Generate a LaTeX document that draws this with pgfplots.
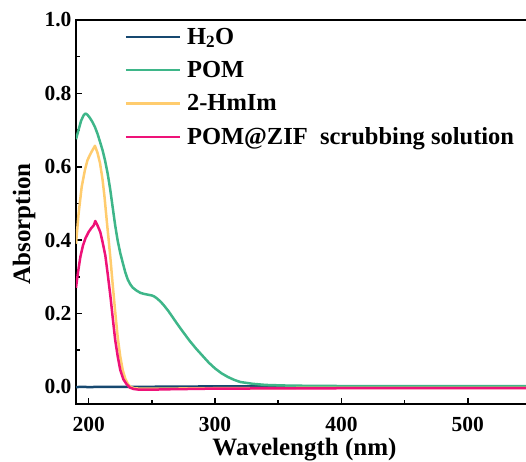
\documentclass[border=0pt]{standalone}
\usepackage{pgfplots}
\pgfplotsset{compat=1.18}
\usepackage{fontspec}
\setmainfont{Liberation Serif}
\definecolor{cH}{RGB}{22,72,112}
\definecolor{cPOM}{RGB}{62,182,137}
\definecolor{cHm}{RGB}{255,204,110}
\definecolor{cZIF}{RGB}{238,18,120}
\begin{document}
\begin{tikzpicture}
\useasboundingbox (-76pt,-57pt) rectangle (450pt,404pt);
\begin{axis}[
  at={(0pt,0pt)}, anchor=south west,
  scale only axis, width=456pt, height=384pt,
  xmin=190, xmax=550.8, ymin=-0.047, ymax=1.0,
  axis lines=box,
  xtick pos=bottom, ytick pos=left,
  tick align=inside,
  xtick={200,300,400,500}, ytick={0,0.2,0.4,0.6,0.8,1.0},
  minor x tick num=1, minor y tick num=1,
  major tick length=6pt, minor tick length=4pt,
  every tick/.style={black, line width=1.6pt},
  axis line style={black, line width=1.8pt},
  /pgf/number format/assume math mode=true,
  yticklabel style={/pgf/number format/fixed, /pgf/number format/fixed zerofill, /pgf/number format/precision=1},
  ticklabel style={font=\fontsize{21.5}{24}\selectfont\bfseries},
  xticklabel style={yshift=-10pt},
  yticklabel style={xshift=-1pt},
  xlabel={Wavelength (nm)}, ylabel={Absorption},
  label style={font=\fontsize{25}{29}\selectfont\bfseries},
  xlabel style={at={(axis description cs:0.501,-0.133)}, anchor=base},
  ylabel style={at={(axis description cs:-0.1140,0.469)}, anchor=center},
  legend style={draw=none, fill=none, at={(axis description cs:0.106,0.985)}, anchor=north west,
    font=\fontsize{24.5}{29}\selectfont\bfseries, row sep=11.5pt, inner sep=0pt},
  legend cell align=left,
  legend image code/.code={\draw[#1, line width=2.5pt] (0pt,0pt) -- (54pt,0pt); \path (58pt,0pt);},
  every axis plot/.append style={line width=2.5pt, line join=round},
]
\addplot[cH] coordinates {(190,-0.001) (195,0.0) (200,-0.001) (210,0.0) (250,0.0) (300,0.001) (350,0.001) (400,0.001) (450,0.001) (500,0.001) (550,0.001)};
\addlegendentry{H\textsubscript{2}O}
\addplot[cPOM] coordinates {(190,0.675) (192,0.70) (194,0.725) (196,0.74) (197.5,0.745) (199,0.742) (201,0.733) (203,0.722) (205,0.708) (207,0.69) (209,0.668) (211,0.645) (213,0.617) (215,0.582) (217,0.54) (219,0.49) (221,0.44) (223,0.398) (225,0.365) (227,0.338) (229,0.312) (231,0.292) (233,0.279) (235,0.27) (238,0.262) (241,0.256) (244,0.253) (247,0.251) (250,0.249) (252,0.246) (254,0.241) (256,0.235) (258,0.228) (260,0.22) (263,0.207) (266,0.192) (270,0.172) (275,0.148) (280,0.125) (285,0.104) (290,0.085) (295,0.066) (300,0.05) (305,0.037) (310,0.027) (315,0.019) (320,0.013) (330,0.008) (340,0.005) (360,0.003) (400,0.002) (450,0.002) (500,0.002) (550,0.002)};
\addlegendentry{POM}
\addplot[cHm] coordinates {(190,0.39) (192,0.47) (194.5,0.545) (197,0.59) (199,0.617) (201,0.632) (203,0.645) (205,0.657) (207,0.638) (209,0.61) (211,0.565) (212.5,0.52) (214.5,0.447) (216,0.395) (217.5,0.34) (219,0.28) (221,0.205) (223,0.135) (225,0.083) (227,0.045) (229,0.022) (231,0.008) (233,0.0) (236,-0.004) (240,-0.005) (260,-0.005) (300,-0.004) (400,-0.003) (550,-0.003)};
\addlegendentry{2-HmIm}
\addplot[cZIF] coordinates {(190,0.27) (191.5,0.31) (193.5,0.355) (195.5,0.385) (197.5,0.405) (200,0.422) (202,0.432) (204,0.44) (205.3,0.452) (207,0.44) (209.2,0.422) (211,0.395) (213.2,0.358) (215,0.31) (217.2,0.248) (219,0.19) (221,0.128) (223,0.083) (225,0.046) (227.5,0.02) (230,0.007) (232.5,-0.002) (235.5,-0.006) (240,-0.008) (250,-0.008) (260,-0.007) (280,-0.006) (300,-0.005) (400,-0.004) (550,-0.004)};
\addlegendentry{POM@ZIF\ \ scrubbing solution}
\end{axis}
\fill[black] (0pt,383pt) rectangle (450pt,385pt);
\end{tikzpicture}
\end{document}
